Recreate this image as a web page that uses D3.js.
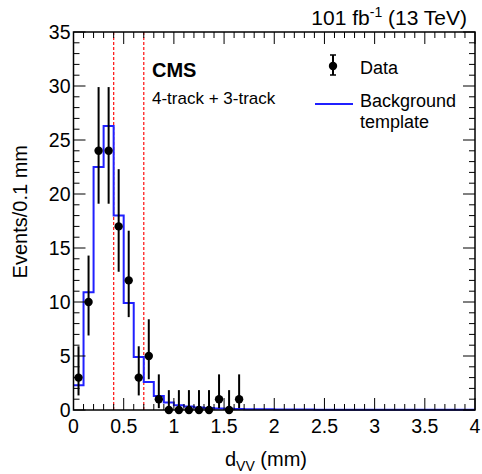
<!DOCTYPE html>
<html>
<head>
<meta charset="utf-8">
<script src="https://cdn.jsdelivr.net/npm/d3@7"></script>
<style>
  body { margin: 0; background: #fff; }
  text { font-family: "Liberation Sans", Arial, sans-serif; fill: #000; }
</style>
</head>
<body>
<div id="chart"></div>
<script>
// data points (bin centres, mm) and counts
const dataX = [0.05, 0.15, 0.25, 0.35, 0.45, 0.55, 0.65, 0.75, 0.85, 0.95, 1.05, 1.15, 1.25, 1.35, 1.45, 1.55, 1.65];
const dataY = [3, 10, 24, 24, 17, 12, 3, 5, 1, 0, 0, 0, 0, 0, 1, 0, 1];
// asymmetric error bars
const errLow  = [1.35, 6.9, 19.1, 19.1, 12.8, 8.6, 1.35, 2.85, 0.17, 0, 0, 0, 0, 0, 0.17, 0, 0.17];
const errHigh = [5.9, 14.3, 29.9, 29.9, 22.3, 16.6, 5.9, 8.4, 3.3, 1.84, 1.84, 1.84, 1.84, 1.84, 3.3, 1.84, 3.3];

// background template, 0.1 mm bins from 0 to 4 mm
const binEdges0 = 0, binWidth = 0.1;
const template = [2.3, 10.9, 22.5, 26.3, 18.0, 9.9, 4.9, 2.6, 1.3, 0.7,
                  0.45, 0.32, 0.24, 0.18, 0.14, 0.11, 0.09, 0.08, 0.07, 0.06,
                  0.05, 0.05, 0.04, 0.04, 0.03, 0.03, 0.03, 0.03, 0.02, 0.02,
                  0.02, 0.02, 0.02, 0.02, 0.02, 0.02, 0.02, 0.02, 0.02, 0.02];

const cutLines = [0.4, 0.7];
const xTicks = [0, 0.5, 1, 1.5, 2, 2.5, 3, 3.5, 4];
const yTicks = [0, 5, 10, 15, 20, 25, 30, 35];

const W = 482, H = 474;
const margin = {top: 32, right: 7, bottom: 64, left: 73.5};
const width = W - margin.left - margin.right;
const height = H - margin.top - margin.bottom;

const svg = d3.select("#chart").append("svg")
    .attr("width", W)
    .attr("height", H);

const g = svg.append("g")
    .attr("transform", "translate(" + margin.left + "," + margin.top + ")");

const x = d3.scaleLinear().domain([0, 4]).range([0, width]);
const y = d3.scaleLinear().domain([0, 35]).range([height, 0]);

// cut lines
g.selectAll(".cut")
    .data(cutLines)
    .enter().append("line")
    .attr("x1", d => x(d)).attr("x2", d => x(d))
    .attr("y1", 0).attr("y2", height)
    .attr("stroke", "#ff2020")
    .attr("stroke-width", 1.3)
    .attr("stroke-dasharray", "3,2");

// template step histogram
let steps = [];
template.forEach((v, i) => {
    steps.push([binEdges0 + i * binWidth, v]);
    steps.push([binEdges0 + (i + 1) * binWidth, v]);
});
g.append("path")
    .datum(steps)
    .attr("fill", "none")
    .attr("stroke", "#2020ff")
    .attr("stroke-width", 2)
    .attr("d", d3.line().x(d => x(d[0])).y(d => y(d[1])));

// error bars
g.selectAll(".err")
    .data(dataX)
    .enter().append("line")
    .attr("x1", d => x(d)).attr("x2", d => x(d))
    .attr("y1", (d, i) => y(errLow[i]))
    .attr("y2", (d, i) => y(errHigh[i]))
    .attr("stroke", "#000")
    .attr("stroke-width", 2);

g.selectAll(".pt")
    .data(dataX)
    .enter().append("circle")
    .attr("cx", d => x(d))
    .attr("cy", (d, i) => y(dataY[i]))
    .attr("r", 4.2)
    .attr("fill", "#000");

// axes - ticks drawn inward, mirrored on top/right
function drawXTicks(yPos, dir) {
    const minor = d3.range(0, 40.5, 1).map(d => d / 10);
    g.selectAll(null).data(minor).enter().append("line")
        .attr("x1", d => x(d)).attr("x2", d => x(d))
        .attr("y1", yPos)
        .attr("y2", d => yPos + dir * (Math.abs(d * 2 - Math.round(d * 2)) < 1e-6 ? 12 : 6))
        .attr("stroke", "#000").attr("stroke-width", 1);
}
function drawYTicks(xPos, dir) {
    const minor = d3.range(0, 36, 1);
    g.selectAll(null).data(minor).enter().append("line")
        .attr("y1", d => y(d)).attr("y2", d => y(d))
        .attr("x1", xPos)
        .attr("x2", d => xPos + dir * (d % 5 === 0 ? 12 : 6))
        .attr("stroke", "#000").attr("stroke-width", 1);
}
drawXTicks(height, -1);
drawXTicks(0, 1);
drawYTicks(0, 1);
drawYTicks(width, -1);

g.append("rect")
    .attr("width", width).attr("height", height)
    .attr("fill", "none").attr("stroke", "#000").attr("stroke-width", 1.5);

g.selectAll(".xlab").data(xTicks).enter().append("text")
    .attr("x", d => x(d)).attr("y", height + 23)
    .attr("text-anchor", "middle")
    .style("font-size", "19.5px")
    .text(d => d);

g.selectAll(".ylab").data(yTicks).enter().append("text")
    .attr("x", -3).attr("y", d => y(d) + 7)
    .attr("text-anchor", "end")
    .style("font-size", "19.5px")
    .text(d => d);

// axis titles
const xt = svg.append("text")
    .attr("x", 266).attr("y", 466)
    .attr("text-anchor", "middle")
    .style("font-size", "20px");
xt.append("tspan").text("d");
xt.append("tspan").attr("dy", 5).style("font-size", "14px").text("VV");
xt.append("tspan").attr("dy", -5).text(" (mm)");

svg.append("text")
    .attr("transform", "translate(27,145) rotate(-90)")
    .attr("text-anchor", "end")
    .style("font-size", "20px")
    .text("Events/0.1 mm");

// header
const hd = svg.append("text")
    .attr("x", 467).attr("y", 25)
    .attr("text-anchor", "end")
    .style("font-size", "21px");
hd.append("tspan").text("101 fb");
hd.append("tspan").attr("dy", -8).style("font-size", "14px").text("-1");
hd.append("tspan").attr("dy", 8).text(" (13 TeV)");

svg.append("text")
    .attr("x", 152).attr("y", 77)
    .style("font-size", "20px").style("font-weight", "bold")
    .text("CMS");
svg.append("text")
    .attr("x", 152).attr("y", 104)
    .style("font-size", "17px")
    .text("4-track + 3-track");

// legend
const lg = svg.append("g");
lg.append("line")
    .attr("x1", 333).attr("x2", 333).attr("y1", 55).attr("y2", 75)
    .attr("stroke", "#000").attr("stroke-width", 2);
[55, 75].forEach(v => lg.append("line")
    .attr("x1", 330).attr("x2", 336).attr("y1", v).attr("y2", v)
    .attr("stroke", "#000").attr("stroke-width", 1.5));
lg.append("circle").attr("cx", 333).attr("cy", 66).attr("r", 4.2).attr("fill", "#000");
lg.append("text").attr("x", 360).attr("y", 74).style("font-size", "18px").text("Data");
lg.append("line")
    .attr("x1", 315).attr("x2", 353).attr("y1", 104).attr("y2", 104)
    .attr("stroke", "#2020ff").attr("stroke-width", 2);
lg.append("text").attr("x", 360).attr("y", 107).style("font-size", "18px").text("Background");
lg.append("text").attr("x", 360).attr("y", 128).style("font-size", "18px").text("template");
</script>
</body>
</html>
